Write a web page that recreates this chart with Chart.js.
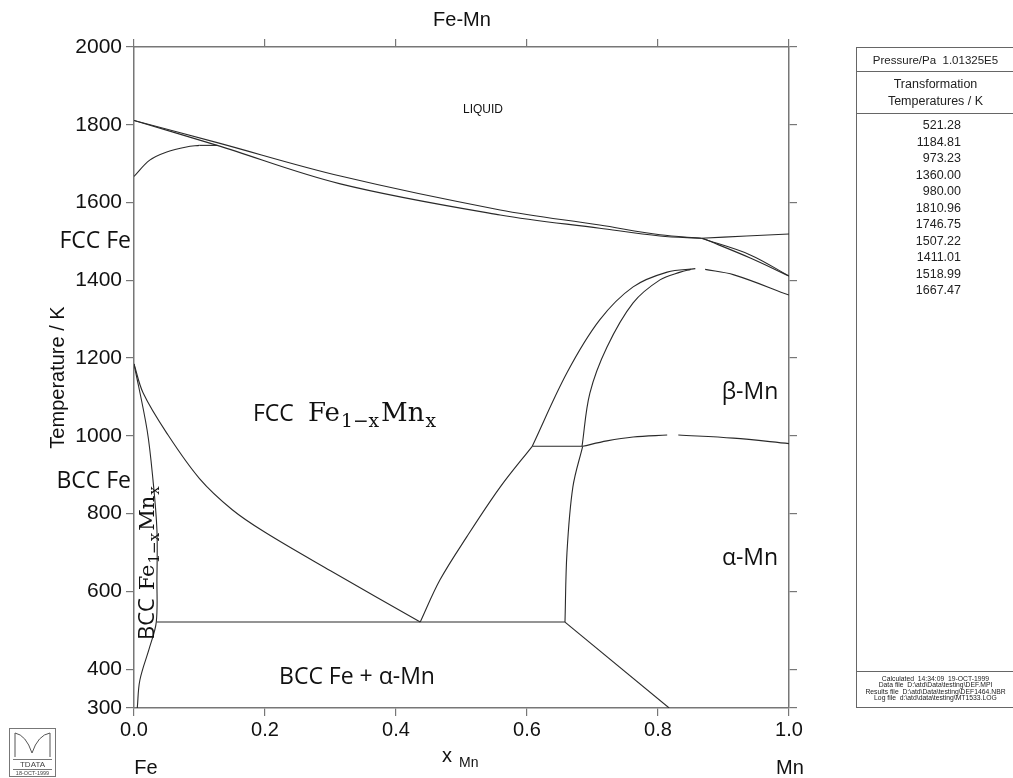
<!DOCTYPE html>
<html>
<head>
<meta charset="utf-8">
<script src="https://cdn.jsdelivr.net/npm/chart.js@4.4.1/dist/chart.umd.min.js"></script>
<style>
html, body { margin: 0; padding: 0; background: #fff; overflow: hidden; }
#wrap { position: relative; width: 1013px; height: 778px; }
#phase { position: absolute; left: 0; top: 0; }
.tbl { position: absolute; left: 856px; top: 47px; width: 175px; height: 661px; border: 1.5px solid #666;
       box-sizing: border-box; font-family: 'Liberation Sans', Arial, sans-serif; color: #222; }
.tbl .row { width: 157px; text-align: center; border-bottom: 1.5px solid #666; box-sizing: border-box; }
.tbl .vals { width: 104px; text-align: right; font-size: 12.5px; line-height: 16.5px; padding-top: 3px; }
.tbl .foot { position: absolute; left: 0; bottom: 0; width: 157px; height: 36px; border-top: 1.5px solid #666;
             text-align: center; font-size: 6.8px; line-height: 6.4px; padding-top: 4px; box-sizing: border-box; white-space: nowrap; }
.logo { position: absolute; left: 9px; top: 728px; width: 47px; height: 49px; border: 1px solid #777; box-sizing: border-box;
        font-family: 'Liberation Sans', Arial, sans-serif; color: #444; text-align: center; }
</style>
</head>
<body>
<div id="wrap">
  <canvas id="phase" width="1013" height="778"></canvas>
  <div class="tbl">
    <div class="row" style="height:24px;line-height:24px;font-size:11.5px;">Pressure/Pa&nbsp; 1.01325E5</div>
    <div class="row" style="height:42px;font-size:12.5px;line-height:16.5px;padding-top:4px;">Transformation<br>Temperatures / K</div>
    <div class="vals" id="vals"></div>
    <div class="foot">Calculated&nbsp; 14:34:09&nbsp; 19-OCT-1999<br>Data file&nbsp; D:\atd\Data\testing\DEF.MPI<br>Results file&nbsp; D:\atd\Data\testing\DEF1464.NBR<br>Log file&nbsp; d:\atd\data\testing\MT1533.LOG</div>
  </div>
  <div class="logo">
    <svg width="45" height="30" viewBox="0 0 45 30" style="display:block">
      <path d="M5 4 Q16 6 22 24 Q28 6 40 4" fill="none" stroke="#555" stroke-width="1"/>
      <path d="M5 4 L5 28 M40 4 L40 28" stroke="#555" stroke-width="1"/>
    </svg>
    <div style="font-size:8px;line-height:9px;border-top:1px solid #777;border-bottom:1px solid #777;margin:0 3px;">TDATA</div>
    <div style="font-size:5.5px;line-height:7px;">18-OCT-1999</div>
  </div>
</div>
<script>
// axis ticks
var xTicks = [0, 0.2, 0.4, 0.6, 0.8, 1.0];
var yTicks = [300, 400, 600, 800, 1000, 1200, 1400, 1600, 1800, 2000];

// transformation temperatures listed in the side table
var transTemps = ['521.28', '1184.81', '973.23', '1360.00', '980.00', '1810.96',
                  '1746.75', '1507.22', '1411.01', '1518.99', '1667.47'];

// phase boundaries, [x_Mn, T/K]
var liquidusFe  = [[0, 1811], [0.127, 1754], [0.315, 1668], [0.559, 1581], [0.711, 1542], [0.803, 1517], [0.866, 1508]];
var solidusFe   = [[0, 1811], [0.127, 1747], [0.315, 1648], [0.559, 1568], [0.711, 1534], [0.803, 1514], [0.866, 1508]];
var deltaLoop   = [[0, 1667], [0.024, 1709], [0.05, 1730], [0.08, 1743], [0.1, 1747]];
var peritectic  = [[0.1, 1747], [0.127, 1747]];
var liquidusMn  = [[0.866, 1508], [0.935, 1514], [1.0, 1519]];
var solidusMnA  = [[0.868, 1508], [0.94, 1458], [1.0, 1411]];
var solidusMnB  = [[0.866, 1508], [0.94, 1466], [1.0, 1411]];
var betaOuterL  = [[0.608, 973], [0.661, 1162], [0.711, 1298], [0.762, 1383], [0.814, 1421], [0.857, 1430]];
var betaOuterR  = [[0.872, 1428], [0.916, 1414], [1.0, 1362]];
var betaInner   = [[0.684, 973], [0.696, 1110], [0.722, 1228], [0.762, 1342], [0.803, 1401], [0.834, 1421], [0.85, 1428]];
var betaAlphaL  = [[0.685, 973], [0.722, 987], [0.762, 997], [0.814, 1002]];
var betaAlphaR  = [[0.831, 1002], [0.915, 994], [1.0, 980]];
var eutectoidHi = [[0.608, 973], [0.685, 973]];
var gammaAlpha  = [[0.608, 973], [0.559, 868], [0.508, 740], [0.467, 629], [0.437, 521]];
var alphaSolvus = [[0.685, 973], [0.670, 868], [0.661, 699], [0.658, 521]];
var eutectoidLo = [[0.035, 521], [0.658, 521]];
var alphaLow    = [[0.658, 521], [0.817, 300]];
var gammaBcc    = [[0, 1185], [0.014, 1110], [0.05, 1007], [0.1, 890], [0.15, 810], [0.2, 752], [0.3, 653], [0.437, 521]];
var bccSolvus   = [[0, 1185], [0.02, 1015], [0.029, 886], [0.035, 758], [0.035, 629], [0.034, 521], [0.024, 457], [0.009, 372], [0.005, 300]];

var curves = [liquidusFe, solidusFe, deltaLoop, peritectic, liquidusMn, solidusMnA, solidusMnB,
              betaOuterL, betaOuterR, betaInner, betaAlphaL, betaAlphaR, eutectoidHi, gammaAlpha,
              alphaSolvus, eutectoidLo, alphaLow, gammaBcc, bccSolvus];

document.getElementById('vals').innerHTML = transTemps.join('<br>');

var SANS = "'Liberation Sans', Arial, sans-serif";
var LABEL = "'Open Sans', 'Noto Sans', sans-serif";
var MATH = "'DejaVu Serif', 'Liberation Serif', serif";

Chart.defaults.font.family = SANS;
Chart.defaults.color = '#111';

var datasets = curves.map(function(c) {
    return {
        data: c.map(function(p) { return {x: p[0], y: p[1]}; }),
        showLine: true,
        borderColor: '#2a2a2a',
        borderWidth: 1.1,
        pointRadius: 0,
        tension: c.length > 2 ? 0.35 : 0,
        fill: false
    };
});

function setTicks(list) {
    return function(scale) {
        scale.ticks = list.map(function(v) { return {value: v}; });
    };
}

// draws "Fe1-xMnx" style text with subscripts
function mathText(ctx, x, y, size) {
    var parts = [['Fe', 0], ['1\u2212x', 1], ['Mn', 0], ['x', 1]];
    parts.forEach(function(p) {
        var s = p[1] ? size * 0.72 : size;
        ctx.font = s + 'px ' + MATH;
        ctx.fillText(p[0], x, y + (p[1] ? size * 0.24 : 0));
        x += ctx.measureText(p[0]).width + (p[1] ? 2 : 1);
    });
    return x;
}

var labelsPlugin = {
    id: 'labels',
    afterDraw: function(chart) {
        var ctx = chart.ctx;
        ctx.save();
        ctx.fillStyle = '#111';
        ctx.textBaseline = 'middle';
        ctx.textAlign = 'center';

        ctx.font = '20px ' + SANS;
        ctx.fillText('Fe-Mn', 462, 20);
        ctx.fillText('Fe', 146, 768);
        ctx.fillText('Mn', 790, 768);
        ctx.textAlign = 'left';
        ctx.fillText('x', 442, 756);
        ctx.font = '14px ' + SANS;
        ctx.fillText('Mn', 459, 763);

        ctx.font = '12px ' + SANS;
        ctx.textAlign = 'center';
        ctx.fillText('LIQUID', 483, 110);

        ctx.font = '23px ' + LABEL;
        ctx.textAlign = 'right';
        ctx.fillText('FCC Fe', 131, 241);
        ctx.fillText('BCC Fe', 131, 481);
        ctx.textAlign = 'center';
        ctx.fillText('\u03b2-Mn', 750, 392);
        ctx.fillText('\u03b1-Mn', 750, 558);
        ctx.fillText('BCC Fe + \u03b1-Mn', 357, 677);

        ctx.textBaseline = 'alphabetic';
        ctx.textAlign = 'left';
        ctx.font = '23px ' + LABEL;
        ctx.fillText('FCC', 253, 421);
        mathText(ctx, 308, 421, 26);

        ctx.translate(154, 640);
        ctx.rotate(-Math.PI / 2);
        ctx.font = '22px ' + LABEL;
        ctx.fillText('BCC', 0, 0);
        var w = ctx.measureText('BCC ').width;
        mathText(ctx, w + 2, 0, 21);
        ctx.restore();
    }
};

var axisColor = '#777';

new Chart(document.getElementById('phase').getContext('2d'), {
    type: 'scatter',
    data: { datasets: datasets },
    plugins: [labelsPlugin],
    options: {
        responsive: false,
        animation: false,
        devicePixelRatio: 1,
        layout: { padding: { left: 0, top: 0, right: 216, bottom: 0 } },
        plugins: { legend: { display: false }, tooltip: { enabled: false } },
        scales: {
            x: {
                type: 'linear', position: 'bottom', min: 0, max: 1,
                afterBuildTicks: setTicks(xTicks),
                afterFit: function(s) { s.height = 70; },
                grid: { drawOnChartArea: false, tickLength: 8, color: axisColor, lineWidth: 1.2 },
                border: { color: axisColor, width: 1.5 },
                ticks: { font: { size: 20 }, padding: 2, maxRotation: 0,
                         callback: function(v) { return v.toFixed(1); } }
            },
            xTop: {
                type: 'linear', position: 'top', min: 0, max: 1,
                afterBuildTicks: setTicks(xTicks),
                afterFit: function(s) { s.height = 47; },
                grid: { drawOnChartArea: false, tickLength: 8, color: axisColor, lineWidth: 1.2 },
                border: { color: axisColor, width: 1.5 },
                ticks: { display: false }
            },
            y: {
                type: 'linear', position: 'left', min: 300, max: 2000,
                afterBuildTicks: setTicks(yTicks),
                afterFit: function(s) { s.width = 134; },
                grid: { drawOnChartArea: false, tickLength: 8, color: axisColor, lineWidth: 1.2 },
                border: { color: axisColor, width: 1.5 },
                ticks: { font: { size: 21 }, padding: 4, callback: function(v) { return String(v); } },
                title: { display: true, text: 'Temperature / K', font: { size: 20 }, padding: { top: 46, bottom: 0 } }
            },
            yRight: {
                type: 'linear', position: 'right', min: 300, max: 2000,
                afterBuildTicks: setTicks(yTicks),
                afterFit: function(s) { s.width = 8; },
                grid: { drawOnChartArea: false, tickLength: 8, color: axisColor, lineWidth: 1.2 },
                border: { color: axisColor, width: 1.5 },
                ticks: { display: false }
            }
        }
    }
});
</script>
</body>
</html>
